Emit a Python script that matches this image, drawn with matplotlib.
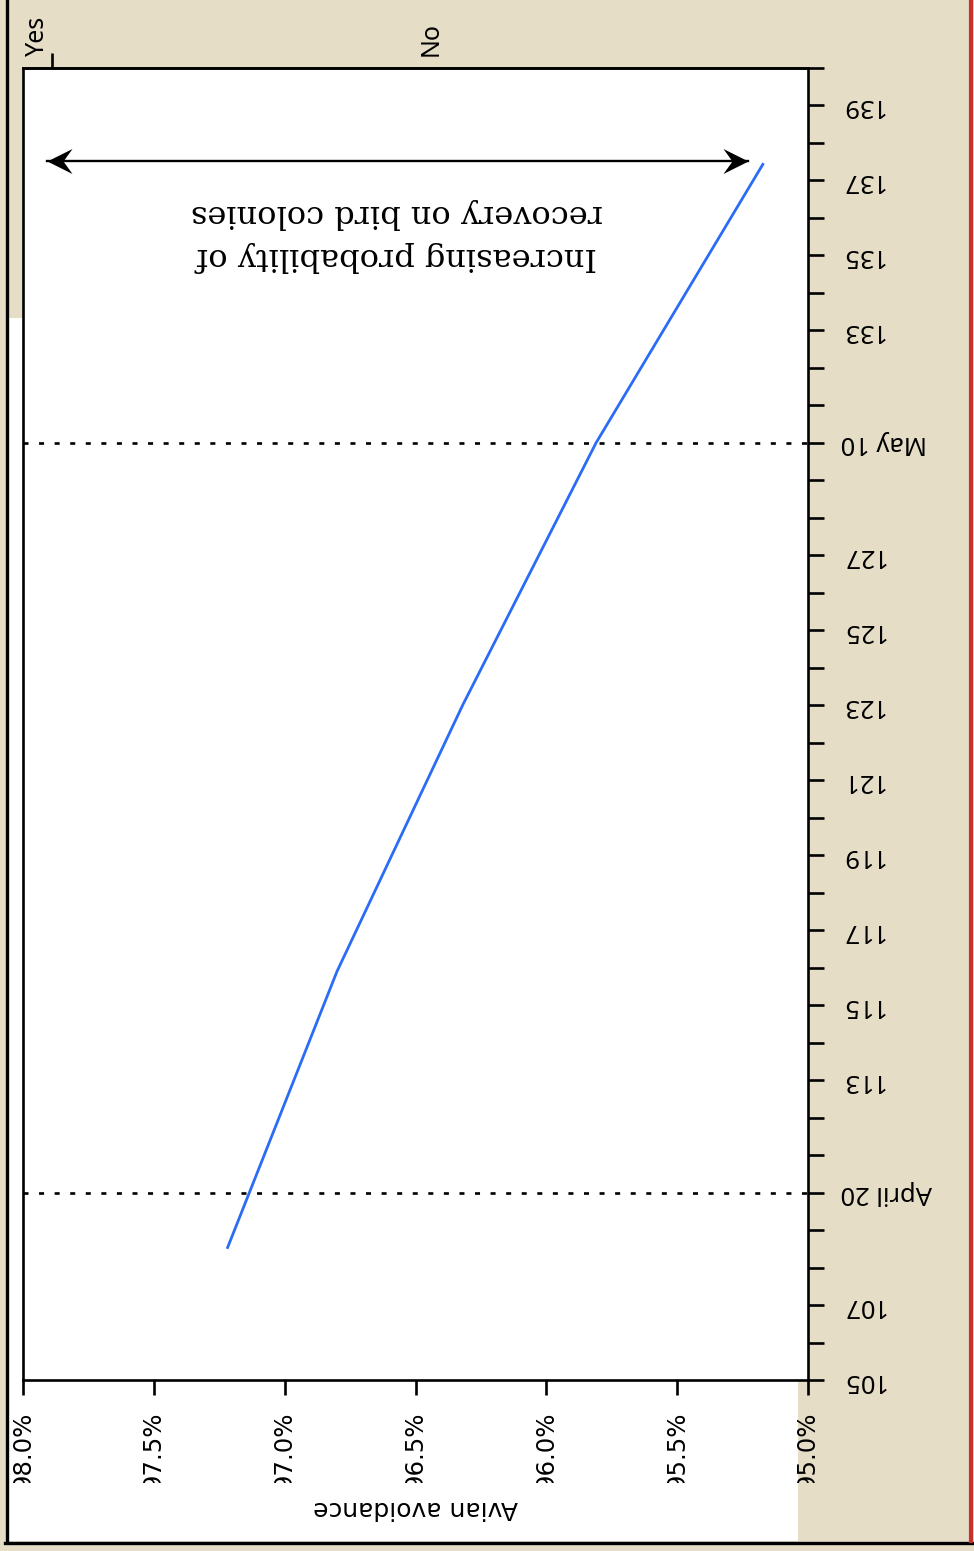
import matplotlib
matplotlib.use("Agg")
import matplotlib.pyplot as plt
from matplotlib.patches import Rectangle
from matplotlib.lines import Line2D
from matplotlib.path import Path
from matplotlib.transforms import Bbox, blended_transform_factory

# ---------------- data ----------------
days = [108.5, 115.9, 123.0, 130.0, 137.46]
avoidance = [97.22, 96.80, 96.32, 95.81, 95.17]

pct_ticks = [98.0, 97.5, 97.0, 96.5, 96.0, 95.5, 95.0]
pct_labels = ["98.0%", "97.5%", "97.0%", "96.5%", "96.0%", "95.5%", "95.0%"]

day_ticks = list(range(105, 141))
day_label_pos = [105, 107, 110, 113, 115, 117, 119, 121, 123, 125, 127, 130, 133, 135, 137, 139]
day_label_txt = ["105", "107", "April 20", "113", "115", "117", "119", "121", "123",
                 "125", "127", "May 10", "133", "135", "137", "139"]

ref_days = [110, 130]          # April 20, May 10

arrow_day = 137.52
arrow_left = 97.908
arrow_right = 95.23

note = "Increasing probability of\nrecovery on bird colonies"
note_x, note_y = 96.571, 135.55

top_labels = ["Yes", "No"]
top_label_pos = [97.945, 96.441]
top_tick_pos = [97.89]

# ---------------- style ----------------
BEIGE = "#E6DDC7"
BLUE = "#2B6CF6"
RED = "#C9302C"
W, H = 974, 1551
SANS2 = ["Noto Sans", "DejaVu Sans"]

fig = plt.figure(figsize=(W / 100, H / 100), dpi=100, facecolor=BEIGE)

# white panel behind the chart
fig.add_artist(Rectangle((8 / W, 1 - 1541 / H), 790 / W, (1541 - 318) / H,
                         transform=fig.transFigure, facecolor="white",
                         edgecolor="none", zorder=-5))
# frame lines
fig.add_artist(Line2D([7 / W, 7 / W], [1 - 1542 / H, 1], transform=fig.transFigure,
                      color="black", lw=2.4, zorder=10))
fig.add_artist(Line2D([5 / W, 1], [1 - 1542.5 / H, 1 - 1542.5 / H], transform=fig.transFigure,
                      color="black", lw=2.4, zorder=10))
fig.add_artist(Line2D([971 / W, 971 / W], [1 - 1541 / H, 1], transform=fig.transFigure,
                      color=RED, lw=3.0, zorder=11))

ax = fig.add_axes([23 / W, 1 - 1380 / H, 785 / W, 1312 / H])
ax.set_facecolor("white")
ax.set_xlim(98, 95)
ax.set_ylim(105, 140)

for s in ax.spines.values():
    s.set_linewidth(1.9)
    s.set_color("black")

# main line
ax.plot(avoidance, days, color=BLUE, lw=2.0, solid_capstyle="butt", zorder=3)

# reference dotted lines
for d in ref_days:
    ax.axhline(d, color="black", lw=1.9, ls=(0, (1.9, 4.0)), zorder=2)

# double-headed arrow
ax.plot([arrow_left, arrow_right], [arrow_day, arrow_day], color="black", lw=1.7, zorder=4)
left_head = Path([(0, 0), (1, 0.5), (0.64, 0), (1, -0.5), (0, 0)],
                 [Path.MOVETO, Path.LINETO, Path.LINETO, Path.LINETO, Path.CLOSEPOLY])
right_head = Path([(0, 0), (-1, 0.5), (-0.64, 0), (-1, -0.5), (0, 0)],
                  [Path.MOVETO, Path.LINETO, Path.LINETO, Path.LINETO, Path.CLOSEPOLY])
ax.plot([arrow_left], [arrow_day], marker=left_head, ms=36, color="black", mew=0, ls="none", zorder=5)
ax.plot([arrow_right], [arrow_day], marker=right_head, ms=36, color="black", mew=0, ls="none", zorder=5)

# annotation text (upside down)
ax.text(note_x, note_y, note, rotation=180, ha="center", va="center",
        multialignment="center", fontsize=23, family="DejaVu Serif",
        linespacing=1.5, zorder=5)

# bottom (avoidance) axis
ax.set_xticks(pct_ticks, pct_labels)
ax.tick_params(axis="x", which="both", bottom=True, top=False, direction="out",
               length=10.8, width=1.9, pad=12, labelsize=17.6, labelrotation=90)
clip = Bbox.from_extents(0, H - 1483, W, H)
for lab in ax.get_xticklabels():
    lab.set_clip_box(clip)
    lab.set_clip_on(True)

ax.set_xlabel("Avian avoidance", rotation=180, fontsize=18, va="center")
ax.xaxis.set_label_coords(0.5, (1380 - 1508) / 1312)

# right (day) axis
ax.yaxis.tick_right()
labels = []
for d in day_ticks:
    labels.append(day_label_txt[day_label_pos.index(d)] if d in day_label_pos else "")
ax.set_yticks(day_ticks, labels)
ax.tick_params(axis="y", which="both", left=False, right=True, direction="out",
               length=11.5, width=1.9, pad=12, labelsize=18.4, labelrotation=180)
for lab in ax.get_yticklabels():
    lab.set_va("center")
    lab.set_family(SANS2)

# top Yes / No labels
sec = ax.secondary_xaxis("top")
sec.set_xticks(top_tick_pos, [""])
sec.tick_params(axis="x", direction="out", length=11, width=1.9)
sec.spines["top"].set_linewidth(1.9)
trans = blended_transform_factory(ax.transData, ax.transAxes)
for lbl, pos in zip(top_labels, top_label_pos):
    ax.annotate(lbl, xy=(pos, 1), xycoords=trans, xytext=(0, 8.5), textcoords="offset points",
                rotation=90, ha="center", va="bottom", fontsize=18, family=SANS2,
                annotation_clip=False)

fig.savefig("out.png", dpi=100, facecolor=BEIGE)
